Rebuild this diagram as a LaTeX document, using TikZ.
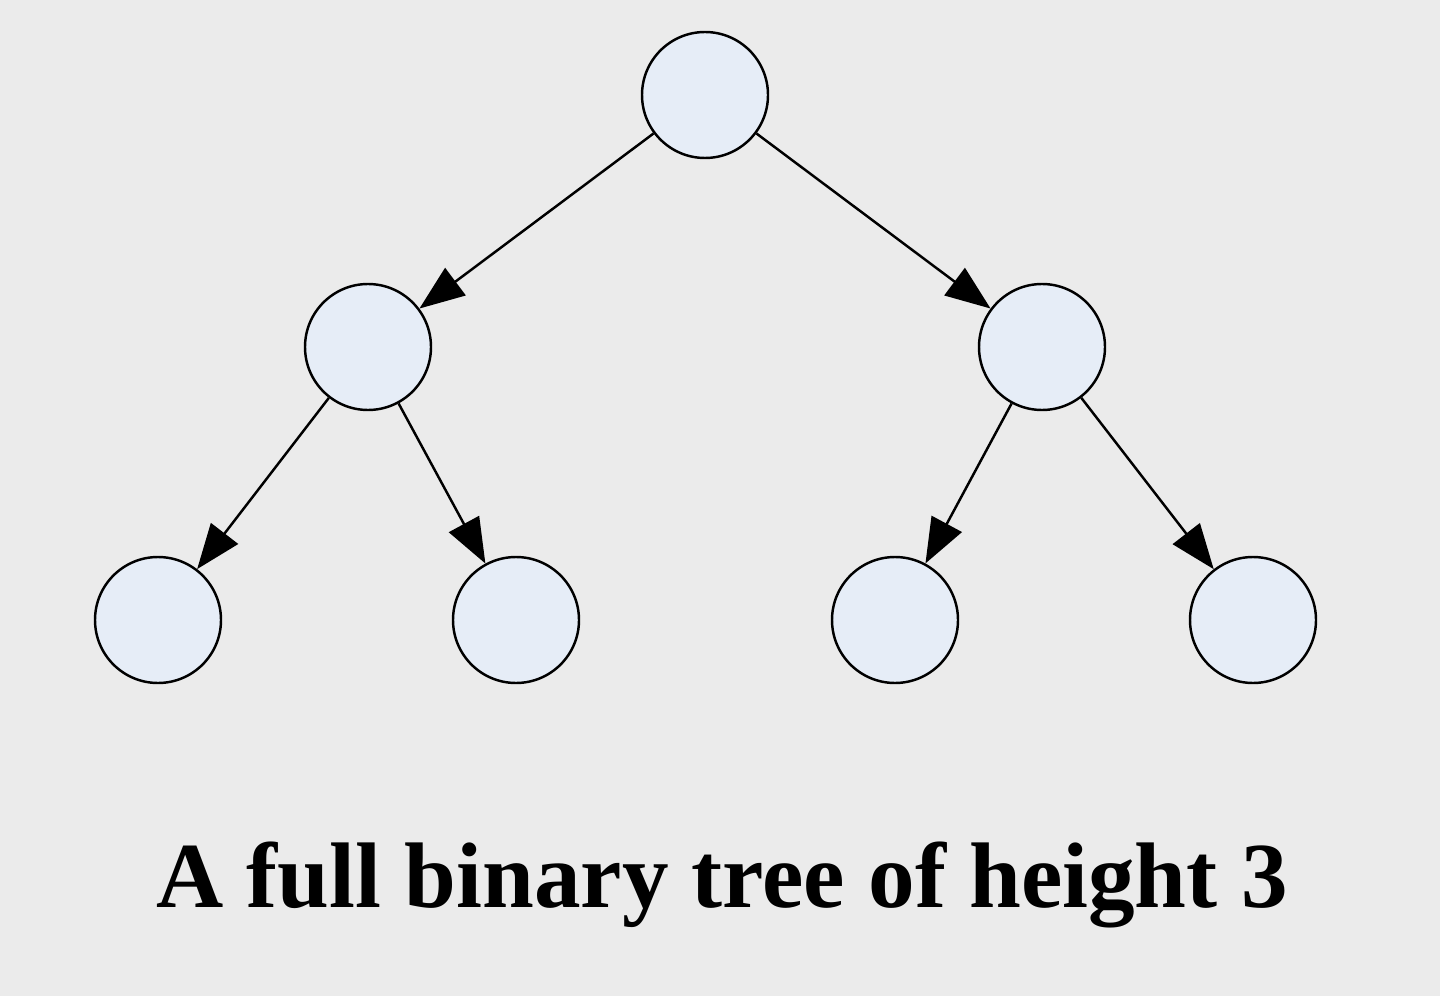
\documentclass[tikz,border=0pt]{standalone}
\usepackage{fontspec}
\setmainfont{Liberation Serif}
\usetikzlibrary{arrows.meta}
\definecolor{bgcol}{HTML}{EBEBEB}
\definecolor{nodecol}{HTML}{E6EDF7}
\begin{document}
\begin{tikzpicture}
        \fill [bgcol] (0, 0) rectangle (14.4, -9.96);
        \useasboundingbox (0, 0) rectangle (14.4, -9.96);
        \begin{scope}[every node/.style={circle, draw, fill=nodecol, minimum size=1.26cm, inner sep=0pt, line width=0.7pt}]
            \node (n1) at (7.05, -0.95) {};
            \node (n2) at (3.68, -3.47) {};
            \node (n3) at (10.42, -3.47) {};
            \node (n4) at (1.58, -6.2) {};
            \node (n5) at (5.16, -6.2) {};
            \node (n6) at (8.95, -6.2) {};
            \node (n7) at (12.53, -6.2) {};
        \end{scope}
        \begin{scope}[line width=0.7pt, -{Triangle[length=0.45cm, width=0.34cm]}]
            \path (n1) edge (n2);
            \path (n1) edge (n3);
            \path (n2) edge (n4);
            \path (n2) edge (n5);
            \path (n3) edge (n6);
            \path (n3) edge (n7);
        \end{scope}
        \node (caption) at (7.22, -8.85) {\fontsize{26.5}{32}\selectfont\bfseries A full binary tree of height 3};
    \end{tikzpicture}
\end{document}
